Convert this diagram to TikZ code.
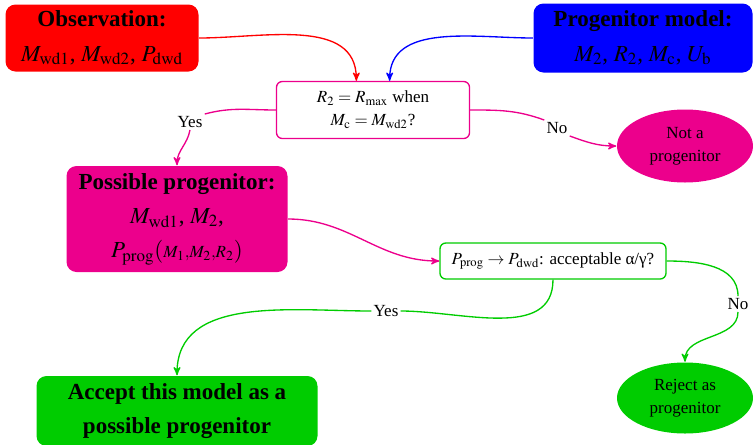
\documentclass[tikz,border=0pt]{standalone}
\usepackage{mathptmx}
\usepackage{fontspec}
\setmainfont{Liberation Serif}
\usepackage{xcolor}
\usepackage{tikz}
\usetikzlibrary{arrows, shapes.geometric}
\definecolor{obsred}{RGB}{255,0,0}
\definecolor{modelblue}{RGB}{0,0,255}
\definecolor{progpink}{RGB}{236,0,140}
\definecolor{okgreen}{RGB}{0,204,0}
\tikzset{
    infobox/.style = {rounded corners=6pt, align=center, inner sep=2pt,
        font=\fontsize{13.8}{20.5}\selectfont},
    question/.style = {rounded corners=3.5pt, align=center, inner sep=2pt,
        draw, fill=white, line width=0.8pt, font=\fontsize{10.2}{13.8}\selectfont},
    verdict/.style = {ellipse, inner sep=0pt, align=center,
        font=\fontsize{10.2}{14}\selectfont},
    answer/.style = {inner sep=1pt, font=\fontsize{10.2}{12}\selectfont},
}

\begin{document}
\begin{tikzpicture}[->,>=stealth',x=0.6pt,y=-0.6pt,line width=0.8pt]
        \useasboundingbox (0,0) rectangle (753,444);
        % inputs
        \node [infobox, fill=obsred, minimum width=115.8pt, minimum height=40.2pt] (obs) at (102,38)
            {\textbf{Observation:}\\ $M_{\rm wd1}$, $M_{\rm wd2}$, $P_{\rm dwd}$};
        \node [infobox, fill=modelblue, minimum width=131.4pt, minimum height=41.4pt] (model) at (643,38)
            {\textbf{Progenitor model:}\\ $M_2$, $R_2$, $M_{\rm c}$, $U_{\rm b}$};
        % first test
        \node [question, draw=progpink, minimum width=115.8pt, minimum height=34.2pt] (q1) at (373,110)
            {$R_2=R_{\rm max}$ when\\ $M_{\rm c}=M_{\rm wd2}$?};
        \node [verdict, fill=progpink, minimum width=81.6pt, minimum height=43.8pt] (notprog) at (685,146)
            {Not a\\ progenitor};
        \node [infobox, fill=progpink, minimum width=132.6pt, minimum height=63.6pt] (possible) at (177,219)
            {\textbf{Possible progenitor:}\\ $M_{\rm wd1}$, $M_2$,\\ $P_{\rm prog}({\scriptstyle M_1,M_2,R_2})$};
        \node [answer] (yes1) at (190,122) {Yes};
        \node [answer] (no1) at (557,128) {No};
        % second test
        \node [question, draw=okgreen, minimum width=135.6pt, minimum height=21.6pt] (q2) at (553,261)
            {$P_{\rm prog}\rightarrow P_{\rm dwd}$: acceptable α/γ?};
        \node [infobox, fill=okgreen, minimum width=168.6pt, minimum height=42pt] (accept) at (177,411)
            {\textbf{Accept this model as a}\\ \textbf{possible progenitor}};
        \node [verdict, fill=okgreen, minimum width=81.6pt, minimum height=42.6pt] (reject) at (685,398)
            {Reject as\\ progenitor};
        \node [answer] (yes2) at (386,311) {Yes};
        \node [answer] (no2) at (738,304) {No};

        \draw [obsred] (obs.east) to[out=0,in=90] ([xshift=-10pt]q1.north);
        \draw [modelblue] (model.west) to[out=180,in=90] ([xshift=10pt]q1.north);
        \draw [progpink,-] (q1.west) to[out=180,in=15] (yes1.north east);
        \draw [progpink] (yes1.south) to[out=-100,in=90] (possible.north);
        \draw [progpink,-] (q1.east) to[out=0,in=160] (no1.north west);
        \draw [progpink] (no1.south east) to[out=-20,in=180] (notprog.west);
        \draw [progpink] (possible.east) to[out=0,in=180] (q2.west);
        \draw [okgreen,-] (q2.south) to[out=-90,in=0] (yes2.east);
        \draw [okgreen] (yes2.west) to[out=180,in=90] (accept.north);
        \draw [okgreen,-] (q2.east) to[out=0,in=90] (no2.north);
        \draw [okgreen] (no2.south) to[out=-90,in=90] (reject.north);
\end{tikzpicture}
\end{document}
